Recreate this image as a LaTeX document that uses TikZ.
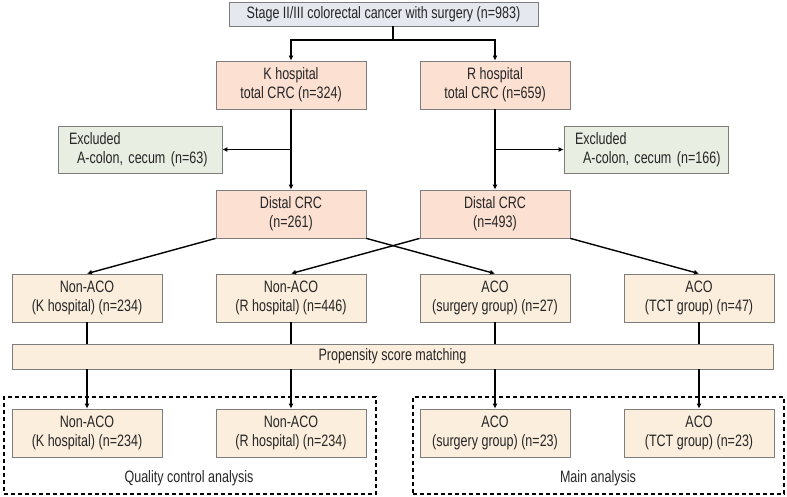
\documentclass[tikz,border=0pt]{standalone}
\usepackage{fontspec}
\setmainfont{Liberation Sans}[FakeStretch=0.76]
\usepackage{tikz}
\usetikzlibrary{arrows.meta}

\definecolor{topgray}{RGB}{230,232,240}
\definecolor{pinkbox}{RGB}{252,224,210}
\definecolor{greenbox}{RGB}{233,238,227}
\definecolor{beigebox}{RGB}{252,238,221}
\definecolor{edgegray}{RGB}{125,125,125}

\begin{document}
\begin{tikzpicture}[x=1pt,y=-1pt,
  box/.style={draw=edgegray, line width=0.8pt, minimum width=150pt, minimum height=48pt,
    inner sep=0pt, align=center, text=black!85, font=\fontsize{16.5}{18.7}\selectfont},
  exbox/.style={box, fill=greenbox, minimum width=164pt, minimum height=47pt,
    text width=154pt, align=left},
  grpbox/.style={draw, line width=1.2pt, dash pattern=on 4pt off 3pt, inner sep=0pt},
  line/.style={black, line width=1.4pt},
  arr/.style={line, -{Latex[length=5pt,width=5pt]}}
]
\useasboundingbox (0,0) rectangle (787,497);

% top of the chart
\node[box, fill=topgray, minimum width=309pt, minimum height=24pt] (top) at (383.5,14)
  {Stage II/III colorectal cancer with surgery (n=983)};
\coordinate (split) at (393,40);

\node[box, fill=pinkbox] (kh) at (291,85) {K hospital\\total CRC (n=324)};
\node[box, fill=pinkbox] (rh) at (495,85) {R hospital\\total CRC (n=659)};

\node[exbox] (exk) at (140,149.5)
  {\hspace*{6pt}Excluded\\\hspace*{14pt}A-colon, cecum (n=63)};
\node[exbox] (exr) at (646,149.5)
  {\hspace*{6pt}Excluded\\\hspace*{14pt}A-colon, cecum (n=166)};

\node[box, fill=pinkbox] (dk) at (291,214) {Distal CRC\\(n=261)};
\node[box, fill=pinkbox] (dr) at (495,214) {Distal CRC\\(n=493)};

% groups before matching
\node[box, fill=beigebox] (nk) at (87,298) {Non-ACO\\(K hospital) (n=234)};
\node[box, fill=beigebox] (nr) at (291,298) {Non-ACO\\(R hospital) (n=446)};
\node[box, fill=beigebox] (as) at (495,298) {ACO\\(surgery group) (n=27)};
\node[box, fill=beigebox] (at) at (699,298) {ACO\\(TCT group) (n=47)};

\node[box, fill=beigebox, minimum width=761pt, minimum height=25pt] (psm) at (392.5,356.5)
  {Propensity score matching};

% groups after matching
\node[grpbox, minimum width=372pt, minimum height=97pt] (qca) at (190,445.5) {};
\node[grpbox, minimum width=371pt, minimum height=97pt] (mna) at (598.5,445.5) {};

\node[box, fill=beigebox] (nk2) at (87,433) {Non-ACO\\(K hospital) (n=234)};
\node[box, fill=beigebox] (nr2) at (291,433) {Non-ACO\\(R hospital) (n=234)};
\node[box, fill=beigebox] (as2) at (495,433) {ACO\\(surgery group) (n=23)};
\node[box, fill=beigebox] (at2) at (699,433) {ACO\\(TCT group) (n=23)};

\node[text=black!85, font=\fontsize{16.5}{18.7}\selectfont] (qcal) at (189,478) {Quality control analysis};
\node[text=black!85, font=\fontsize{16.5}{18.7}\selectfont] (mnal) at (598,478) {Main analysis};

% connectors
\draw[line] (top.south -| split) -- (split);
\draw[arr] (split) -| (kh.north);
\draw[arr] (split) -| (rh.north);

\draw[arr] (kh) -- (dk);
\draw[arr] (rh) -- (dr);
\draw[arr] (kh.south |- exk) -- (exk.east);
\draw[arr] (rh.south |- exr) -- (exr.west);

\draw[arr] (dk.south west) -- (nk.north);
\draw[arr] (dk.south east) -- (as.north);
\draw[arr] (dr.south west) -- (nr.north);
\draw[arr] (dr.south east) -- (at.north);

\foreach \a/\b in {nk/nk2, nr/nr2, as/as2, at/at2} {
  \draw[line] (\a) -- (\a |- psm.north);
  \draw[arr] (\a |- psm.south) -- (\b);
}

\end{tikzpicture}
\end{document}
